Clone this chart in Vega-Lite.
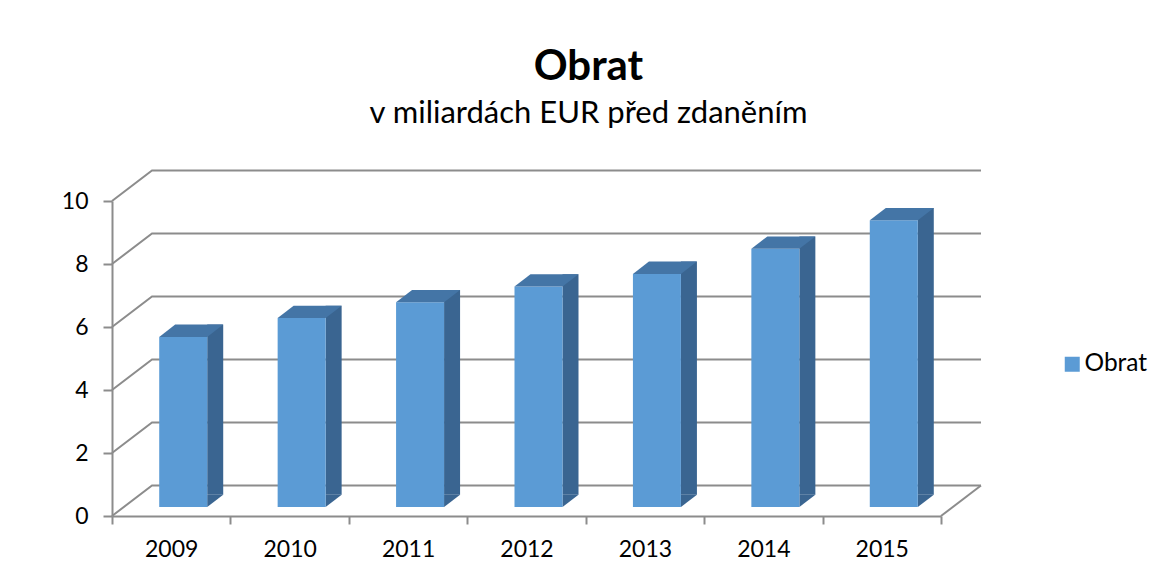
{
  "$schema": "https://vega.github.io/schema/vega-lite/v6.json",
  "width": 829,
  "height": 315,
  "autosize": {"type": "none"},
  "padding": {"left": 112, "top": 201, "right": 221, "bottom": 62},
  "background": "white",
  "config": {
    "view": {"stroke": null},
    "font": "Lato",
    "axisX": {"domainColor": "#8C8C8C", "domainWidth": 2, "tickColor": "#8C8C8C", "tickWidth": 2, "tickSize": 8, "labelPadding": 14, "labelAngle": 0, "tickBand": "extent", "labelFontSize": 23, "labelColor": "black", "labelFont": "Lato", "grid": false},
    "axisY": {"domainColor": "#8C8C8C", "domainWidth": 2, "tickColor": "#8C8C8C", "tickWidth": 2, "tickSize": 9, "labelPadding": 15, "labelFontSize": 23, "labelColor": "black", "labelFont": "Lato", "grid": false}
  },
  "title": {
    "text": "Obrat",
    "subtitle": "v miliardách EUR před zdaněním",
    "anchor": "middle",
    "dx": 62,
    "offset": 37,
    "font": "Lato",
    "fontSize": 42,
    "fontWeight": "bold",
    "color": "black",
    "subtitleFont": "Lato",
    "subtitleFontSize": 31,
    "subtitleColor": "black",
    "subtitlePadding": 10
  },
  "datasets": {
    "obrat": [
      {"rok": "2009", "obrat": 5.4},
      {"rok": "2010", "obrat": 6.0},
      {"rok": "2011", "obrat": 6.5},
      {"rok": "2012", "obrat": 7.0},
      {"rok": "2013", "obrat": 7.4},
      {"rok": "2014", "obrat": 8.2},
      {"rok": "2015", "obrat": 9.1}
    ],
    "mrizka": [
      {"hodnota": 0}, {"hodnota": 2}, {"hodnota": 4}, {"hodnota": 6}, {"hodnota": 8}, {"hodnota": 10}
    ]
  },
  "layer": [
    {
      "data": {"name": "mrizka"},
      "mark": {"type": "point", "shape": "M0,0L40,-30.5L869,-30.5", "size": 4, "filled": false, "stroke": "#8C8C8C", "strokeWidth": 2, "opacity": 1},
      "encoding": {
        "x": {"datum": "2009", "type": "nominal", "bandPosition": 0, "title": null, "scale": {"type": "band", "paddingInner": 0, "paddingOuter": 0}},
        "y": {"field": "hodnota", "type": "quantitative", "title": null, "scale": {"domain": [0, 10], "nice": false}, "axis": {"values": [0, 2, 4, 6, 8, 10]}}
      }
    },
    {
      "data": {"name": "mrizka"},
      "transform": [{"filter": "datum.hodnota == 0"}],
      "mark": {"type": "point", "shape": "M829,0L869,-30.5", "size": 4, "filled": false, "stroke": "#8C8C8C", "strokeWidth": 2, "opacity": 1},
      "encoding": {
        "x": {"datum": "2009", "type": "nominal", "bandPosition": 0, "title": null},
        "y": {"field": "hodnota", "type": "quantitative", "title": null}
      }
    },
    {
      "data": {"name": "obrat"},
      "mark": {"type": "bar", "width": 16, "xOffset": 44, "yOffset": -21.3, "y2Offset": -21.3, "fill": "#3A6591"},
      "encoding": {
        "x": {"field": "rok", "type": "nominal", "title": null},
        "y": {"field": "obrat", "type": "quantitative", "title": null}
      }
    },
    {
      "data": {"name": "obrat"},
      "mark": {"type": "point", "shape": "M36,-9L36,-21.3L52,-21.3Z", "size": 4, "filled": true, "fill": "#3A6591", "strokeWidth": 0, "opacity": 1},
      "encoding": {
        "x": {"field": "rok", "type": "nominal", "title": null},
        "y": {"datum": 0, "type": "quantitative", "title": null}
      }
    },
    {
      "data": {"name": "obrat"},
      "mark": {"type": "bar", "width": 48, "xOffset": 12, "yOffset": -9, "y2Offset": -9},
      "encoding": {
        "x": {"field": "rok", "type": "nominal", "title": null},
        "y": {"field": "obrat", "type": "quantitative", "title": null},
        "color": {"datum": "Obrat", "type": "nominal", "scale": {"range": ["#5B9BD5"]}, "legend": {"title": null, "orient": "none", "legendX": 948, "legendY": 151, "symbolType": "square", "symbolSize": 225, "symbolStrokeWidth": 0, "labelFontSize": 24.5, "labelFont": "Lato", "labelColor": "black", "labelOffset": 0}}
      }
    },
    {
      "data": {"name": "obrat"},
      "mark": {"type": "point", "shape": "M-12,-9L36,-9L52,-21.3L4,-21.3Z", "size": 4, "filled": true, "fill": "#4475A6", "strokeWidth": 0, "opacity": 1},
      "encoding": {
        "x": {"field": "rok", "type": "nominal", "title": null},
        "y": {"field": "obrat", "type": "quantitative", "title": null}
      }
    }
  ]
}
